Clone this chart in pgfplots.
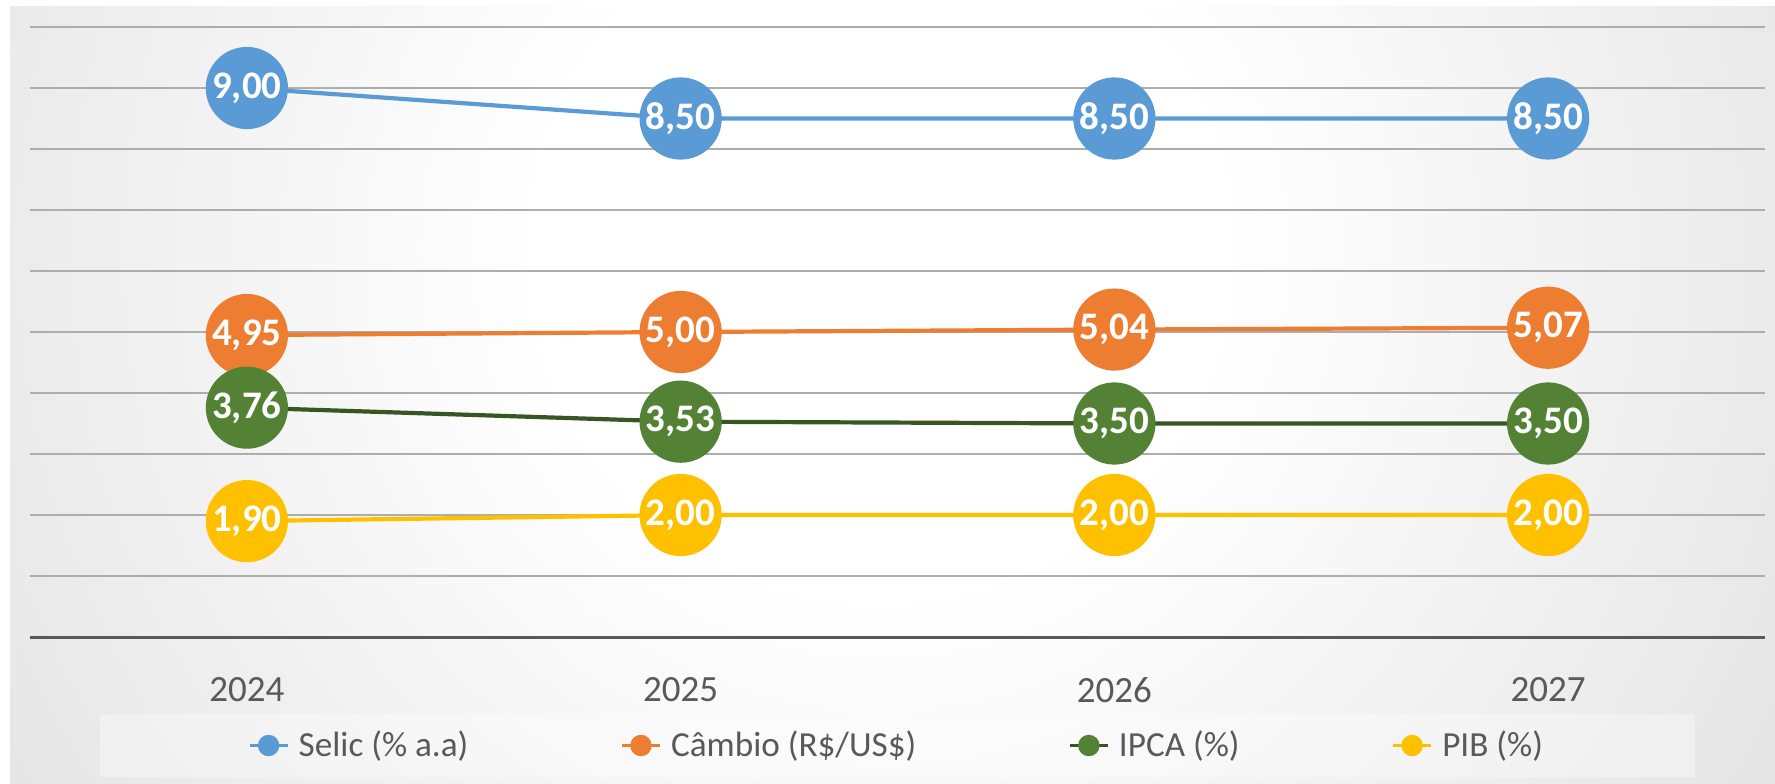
\documentclass[border=0pt]{standalone}
\usepackage{fontspec}
\setmainfont{Carlito}
\usepackage{pgfplots}
\pgfplotsset{compat=1.18}
\definecolor{selic}{HTML}{5B9BD5}
\definecolor{cambio}{HTML}{ED7D31}
\definecolor{ipca}{HTML}{548235}
\definecolor{ipcaline}{HTML}{375623}
\definecolor{pib}{HTML}{FFC000}
\definecolor{txtgray}{HTML}{595959}
\definecolor{gridgray}{HTML}{ADADAD}
\definecolor{bggray}{HTML}{BCBCBC}
\pgfdeclareradialshading{bgshade}{\pgfpoint{0bp}{0bp}}{color(0bp)=(white); color(8bp)=(white); color(50bp)=(bggray)}

\begin{document}
\begin{tikzpicture}
\useasboundingbox (0,0) rectangle (887.5pt,391.5pt);
\begin{scope}
  \clip (5pt,0pt) rectangle (887.5pt,388pt);
  \shade[shading=bgshade] (440pt,266.5pt) circle (535pt);
\end{scope}
\begin{axis}[
  at={(15pt,73pt)}, anchor=south west,
  width=867.5pt, height=305pt, scale only axis,
  xmin=-0.5, xmax=3.5, ymin=0, ymax=10,
  xtick={0,1,2,3}, xticklabels={2024,2025,2026,2027},
  ytick={0,1,...,10}, yticklabels={},
  major tick length=0pt,
  ymajorgrids, grid style={gridgray, line width=0.8pt},
  separate axis lines,
  axis x line*=bottom, axis y line*=left,
  x axis line style={-, draw=txtgray, line width=1.5pt},
  y axis line style={draw=none},
  xticklabel style={font=\fontsize{18.5}{22}\selectfont, text=txtgray, anchor=center, yshift=-26.5pt},
  clip=false,
  every axis plot/.append style={line width=2.1pt, mark=*, mark size=19.5pt},
  nodes near coords={\pgfmathprintnumber[fixed,fixed zerofill,precision=2,use comma,assume math mode=true]{\pgfplotspointmeta}},
  nodes near coords style={anchor=center, text=white, font=\bfseries\fontsize{19.5}{22}\selectfont},
  legend columns=4,
  legend image code/.code={
    \draw[mark repeat=2, mark phase=2, #1, line width=1.5pt, mark size=4.6pt, fill opacity=1, draw opacity=1]
      plot coordinates {(0pt,0pt) (9.5pt,0pt) (19pt,0pt)};
    \path (21.5pt,0pt);},
  legend style={at={(0.5,-0.17787)}, anchor=center, fill=white, fill opacity=0.35, text opacity=1, draw=none,
    font=\fontsize{17.6}{21}\selectfont, text=txtgray, inner xsep=74pt, inner ysep=6.5pt,
    /tikz/every even column/.append style={column sep=74pt}},
]
\addplot[color=selic, mark options={fill=selic, draw=selic}] coordinates {(0,9.00) (1,8.50) (2,8.50) (3,8.50)};
\addlegendentry{Selic (\% a.a)}
\addplot[color=cambio, mark options={fill=cambio, draw=cambio}] coordinates {(0,4.95) (1,5.00) (2,5.04) (3,5.07)};
\addlegendentry{Câmbio (R\$/US\$)}
\addplot[color=ipcaline, mark options={fill=ipca, draw=ipca}] coordinates {(0,3.76) (1,3.53) (2,3.50) (3,3.50)};
\addlegendentry{IPCA (\%)}
\addplot[color=pib, mark options={fill=pib, draw=pib}] coordinates {(0,1.90) (1,2.00) (2,2.00) (3,2.00)};
\addlegendentry{PIB (\%)}
\end{axis}
\end{tikzpicture}
\end{document}
